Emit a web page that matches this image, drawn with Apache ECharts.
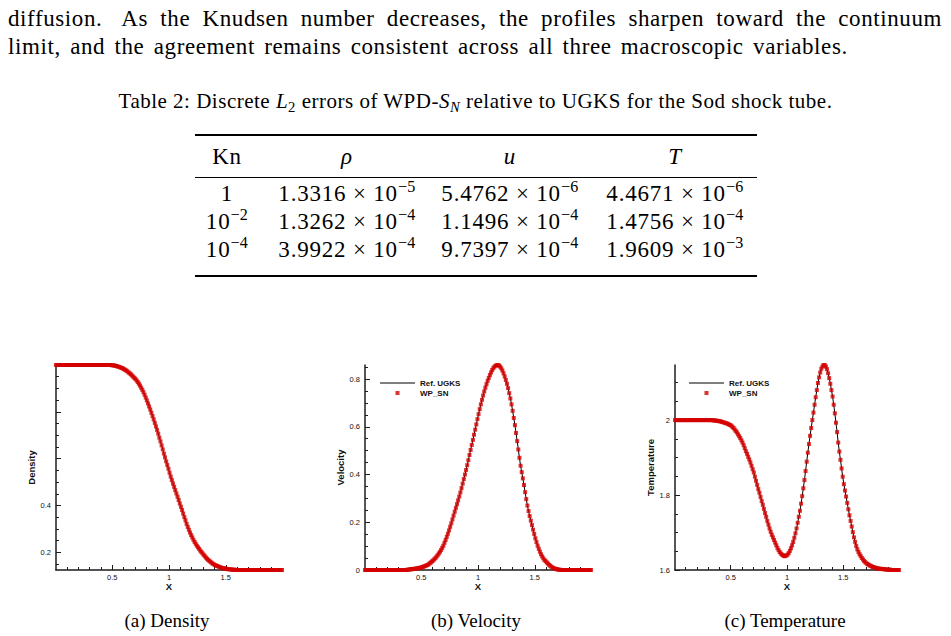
<!DOCTYPE html>
<html>
<head>
<meta charset="utf-8">
<script src="https://cdn.jsdelivr.net/npm/echarts@6/dist/echarts.min.js"></script>
<style>
html,body{margin:0;padding:0;background:#fff;}
body{width:951px;height:636px;position:relative;overflow:hidden;font-family:"Liberation Serif","Times New Roman",serif;color:#000;}
#chart{position:absolute;left:0;top:0;width:951px;height:636px;}
.t{position:absolute;white-space:nowrap;}
.para{font-size:23px;line-height:28px;}
.cell{position:absolute;width:220px;text-align:center;font-size:23px;line-height:28px;white-space:nowrap;letter-spacing:0.8px;}
.sup{font-size:0.7em;position:relative;top:-0.55em;letter-spacing:0.3px;}
.sub{font-size:0.7em;position:relative;top:0.3em;}
.rule{position:absolute;left:195px;width:562px;background:#000;}
.subcap{position:absolute;width:240px;text-align:center;font-size:19px;line-height:22px;}
</style>
</head>
<body>
<div id="chart"></div>
<div class="para" style="position:absolute;left:8px;top:5px;width:934px;text-align:justify;text-align-last:justify;letter-spacing:0.6px;"><span style="margin-right:8px;">diffusion.</span> As the Knudsen number decreases, the profiles sharpen toward the continuum</div>
<div class="para t" style="left:8px;top:33px;letter-spacing:0.6px;word-spacing:3px;">limit, and the agreement remains consistent across all three macroscopic variables.</div>
<div class="t" style="left:0;top:89px;width:951px;text-align:center;font-size:21px;line-height:24px;letter-spacing:0.5px;">Table 2: Discrete <i>L</i><span class="sub">2</span> errors of WPD-<i>S</i><span class="sub"><i>N</i></span> relative to UGKS for the Sod shock tube.</div>
<div class="rule" style="top:134px;height:2px;"></div>
<div class="rule" style="top:177px;height:1px;"></div>
<div class="rule" style="top:275px;height:2px;"></div>
<div id="table"></div>
<div class="subcap" style="left:47px;top:610px;">(a) Density</div>
<div class="subcap" style="left:356px;top:610px;">(b) Velocity</div>
<div class="subcap" style="left:665px;top:610px;">(c) Temperature</div>
<script>
// ---------- table text ----------
const tableHeader = ['Kn', '<i>ρ</i>', '<i>u</i>', '<i>T</i>'];
const tableKn = ['1', '10<span class="sup">−2</span>', '10<span class="sup">−4</span>'];
const tableRho = [['1.3316', '−5'], ['1.3262', '−4'], ['3.9922', '−4']];
const tableU = [['5.4762', '−6'], ['1.1496', '−4'], ['9.7397', '−4']];
const tableT = [['4.4671', '−6'], ['1.4756', '−4'], ['1.9609', '−3']];
const colCenters = [227, 347, 510, 675];
const headerY = 157;
const rowY = [194, 222, 250];

// ---------- chart data ----------
// cell centres of the 1D grid (200 uniform cells on [0, 2])
const xCells = Array.from({length: 200}, (_, i) => +(0.005 + 0.01 * i).toFixed(3));

const density = [
 1,1,1,1,1,1,1,1,1,1,
 1,1,1,1,1,1,1,1,1,1,
 1,1,1,1,1,1,1,1,1,1,
 1,1,1,1,1,1,1,1,1,1,
 1,1,1,1,1,1,1,1,1,0.999,
 0.999,0.998,0.997,0.996,0.994,0.993,0.991,0.989,0.987,0.985,
 0.982,0.979,0.976,0.972,0.968,0.964,0.960,0.955,0.950,0.945,
 0.940,0.934,0.927,0.920,0.912,0.903,0.894,0.884,0.873,0.861,
 0.849,0.836,0.823,0.810,0.796,0.782,0.768,0.753,0.738,0.723,
 0.707,0.690,0.674,0.657,0.640,0.622,0.606,0.589,0.573,0.557,
 0.540,0.524,0.509,0.494,0.480,0.466,0.452,0.438,0.424,0.409,
 0.395,0.381,0.366,0.351,0.337,0.322,0.309,0.297,0.285,0.274,
 0.264,0.254,0.245,0.237,0.229,0.222,0.215,0.208,0.202,0.196,
 0.190,0.184,0.178,0.173,0.168,0.164,0.160,0.156,0.152,0.149,
 0.146,0.144,0.142,0.140,0.138,0.136,0.134,0.133,0.132,0.131,
 0.130,0.129,0.128,0.128,0.127,0.127,0.126,0.126,0.126,0.125,
 0.125,0.125,0.125,0.125,0.125,0.125,0.125,0.125,0.125,0.125,
 0.125,0.125,0.125,0.125,0.125,0.125,0.125,0.125,0.125,0.125,
 0.125,0.125,0.125,0.125,0.125,0.125,0.125,0.125,0.125,0.125,
 0.125,0.125,0.125,0.125,0.125,0.125,0.125,0.125,0.125,0.125
];

const velocity = [
 0,0,0,0,0,0,0,0,0,0,
 0,0,0,0,0,0,0,0,0,0,
 0,0,0,0,0,0,0,0,0,0,
 0,0,0,0,0,0,0,0.001,0.001,0.002,
 0.003,0.003,0.004,0.005,0.005,0.006,0.007,0.008,0.009,0.010,
 0.011,0.013,0.015,0.017,0.019,0.021,0.024,0.028,0.032,0.036,
 0.040,0.045,0.050,0.056,0.062,0.069,0.076,0.084,0.093,0.102,
 0.114,0.126,0.139,0.152,0.166,0.181,0.196,0.212,0.228,0.244,
 0.260,0.276,0.292,0.308,0.325,0.343,0.362,0.381,0.400,0.419,
 0.439,0.460,0.482,0.503,0.524,0.545,0.567,0.588,0.610,0.632,
 0.653,0.674,0.694,0.713,0.731,0.748,0.764,0.779,0.793,0.805,
 0.817,0.828,0.838,0.846,0.852,0.856,0.858,0.859,0.857,0.852,
 0.845,0.836,0.824,0.811,0.796,0.780,0.762,0.741,0.719,0.694,
 0.667,0.637,0.607,0.574,0.540,0.505,0.470,0.437,0.410,0.384,
 0.356,0.326,0.297,0.270,0.247,0.226,0.207,0.188,0.169,0.151,
 0.133,0.117,0.102,0.089,0.077,0.066,0.057,0.049,0.042,0.037,
 0.032,0.027,0.022,0.018,0.014,0.011,0.008,0.006,0.004,0.003,
 0.002,0.001,0.001,0,0,0,0,0,0,0,
 0,0,0,0,0,0,0,0,0,0,
 0,0,0,0,0,0,0,0,0,0
];

const temperature = [
 2,2,2,2,2,2,2,2,2,2,
 2,2,2,2,2,2,2,2,2,2,
 2,2,2,2,2,2,2,2,2,2,
 2,2,2,2,1.999,1.999,1.999,1.998,1.998,1.997,
 1.997,1.996,1.995,1.994,1.993,1.992,1.991,1.990,1.988,1.987,
 1.985,1.982,1.979,1.975,1.971,1.967,1.962,1.957,1.952,1.946,
 1.940,1.933,1.925,1.917,1.910,1.902,1.895,1.887,1.878,1.869,
 1.860,1.849,1.838,1.827,1.816,1.806,1.795,1.784,1.774,1.763,
 1.752,1.742,1.731,1.721,1.711,1.702,1.694,1.687,1.680,1.673,
 1.666,1.659,1.653,1.648,1.644,1.641,1.639,1.637,1.637,1.639,
 1.641,1.645,1.651,1.658,1.666,1.675,1.686,1.698,1.711,1.726,
 1.742,1.758,1.777,1.797,1.818,1.840,1.864,1.889,1.913,1.936,
 1.958,1.979,2.000,2.020,2.041,2.061,2.080,2.099,2.114,2.127,
 2.137,2.143,2.147,2.147,2.143,2.136,2.125,2.112,2.097,2.080,
 2.063,2.041,2.018,1.993,1.968,1.940,1.916,1.894,1.871,1.849,
 1.829,1.812,1.796,1.779,1.762,1.746,1.731,1.716,1.701,1.687,
 1.675,1.664,1.655,1.648,1.642,1.637,1.632,1.628,1.624,1.621,
 1.618,1.616,1.614,1.612,1.611,1.609,1.608,1.607,1.606,1.605,
 1.604,1.604,1.603,1.603,1.603,1.602,1.602,1.602,1.601,1.601,
 1.601,1.601,1.600,1.600,1.600,1.600,1.600,1.600,1.600,1.600
];

const seriesNames = ['Ref. UGKS', 'WP_SN'];
const yTitles = ['Density', 'Velocity', 'Temperature'];
const xMajorTicks = [0.5, 1, 1.5];
const xMinorTicks = [0.1,0.2,0.3,0.4,0.6,0.7,0.8,0.9,1.1,1.2,1.3,1.4,1.6,1.7,1.8,1.9];
const yMajorTicks = [[0.2,0.4,0.6,0.8,1], [0,0.2,0.4,0.6,0.8], [1.6,1.8,2]];
const yTickLabels = [[0.2,0.4], [0,0.2,0.4,0.6,0.8], [1.6,1.8,2]];
const yMinorTicks = [
  [0.15,0.25,0.3,0.35,0.45,0.5,0.55,0.65,0.7,0.75,0.85,0.9,0.95],
  [0.05,0.1,0.15,0.25,0.3,0.35,0.45,0.5,0.55,0.65,0.7,0.75,0.85],
  [1.65,1.7,1.75,1.85,1.9,1.95,2.05,2.1]
];

// ---------- build table ----------
(function(){
  const t = document.getElementById('table');
  function cell(html, cx, cy){
    const d = document.createElement('div');
    d.className = 'cell';
    d.style.left = (cx - 110) + 'px';
    d.style.top = (cy - 14) + 'px';
    d.innerHTML = html;
    t.appendChild(d);
  }
  tableHeader.forEach((h, j) => cell(h, colCenters[j], headerY));
  const num = v => v[0] + '&nbsp;×&nbsp;10<span class="sup">' + v[1] + '</span>';
  for (let r = 0; r < 3; r++) {
    cell(tableKn[r], colCenters[0], rowY[r]);
    cell(num(tableRho[r]), colCenters[1], rowY[r]);
    cell(num(tableU[r]), colCenters[2], rowY[r]);
    cell(num(tableT[r]), colCenters[3], rowY[r]);
  }
})();

// ---------- chart ----------
const chart = echarts.init(document.getElementById('chart'), null, {renderer: 'svg'});
const profiles = [density, velocity, temperature];
const gridRects = [
  {left: 56, top: 365, width: 226, height: 205},
  {left: 365, top: 365, width: 226, height: 205},
  {left: 675, top: 365, width: 224, height: 205}
];
const axisColor = '#1c1c1c';
const sans = 'Liberation Sans';
const xMin = xCells[0], xMax = xCells[xCells.length - 1];

const grid = [], xAxis = [], yAxis = [], series = [];
profiles.forEach((vals, g) => {
  grid.push(Object.assign({outerBoundsMode: 'none', containLabel: false}, gridRects[g]));
  const yMin = Math.min(...vals), yMax = Math.max(...vals);
  xAxis.push({
    type: 'value', gridIndex: g, min: xMin, max: xMax, position: 'bottom',
    axisLine: {show: true, onZero: false, lineStyle: {color: axisColor, width: 1.5}},
    axisTick: {show: true, inside: true, length: 5, customValues: xMajorTicks, lineStyle: {color: axisColor, width: 1}},
    axisLabel: {show: true, customValues: xMajorTicks, margin: 3, fontSize: 7.5, color: '#111', fontFamily: sans},
    splitLine: {show: false},
    name: 'X', nameLocation: 'middle', nameGap: 9,
    nameTextStyle: {fontWeight: 'bold', fontSize: 9.5, fontFamily: sans, color: '#111'}
  });
  xAxis.push({
    type: 'value', gridIndex: g, min: xMin, max: xMax, position: 'bottom',
    axisLine: {show: false, onZero: false},
    axisTick: {show: true, inside: true, length: 3, customValues: xMinorTicks, lineStyle: {color: axisColor, width: 1}},
    axisLabel: {show: false}, splitLine: {show: false}
  });
  yAxis.push({
    type: 'value', gridIndex: g, min: yMin, max: yMax, position: 'left',
    axisLine: {show: true, onZero: false, lineStyle: {color: axisColor, width: 1.5}},
    axisTick: {show: true, inside: true, length: 5, customValues: yMajorTicks[g], lineStyle: {color: axisColor, width: 1}},
    axisLabel: {show: true, customValues: yTickLabels[g], margin: 5, fontSize: 7.5, color: '#111', fontFamily: sans},
    splitLine: {show: false},
    name: yTitles[g], nameLocation: 'middle', nameGap: 15,
    nameTextStyle: {fontWeight: 'bold', fontSize: 9.5, fontFamily: sans, color: '#111'}
  });
  yAxis.push({
    type: 'value', gridIndex: g, min: yMin, max: yMax, position: 'left',
    axisLine: {show: false, onZero: false},
    axisTick: {show: true, inside: true, length: 3, customValues: yMinorTicks[g], lineStyle: {color: axisColor, width: 1}},
    axisLabel: {show: false}, splitLine: {show: false}
  });
  const pts = xCells.map((xv, i) => [xv, vals[i]]);
  series.push({
    type: 'line', name: seriesNames[0], xAxisIndex: 2 * g, yAxisIndex: 2 * g,
    data: pts, symbol: 'none', showSymbol: false, clip: false,
    lineStyle: {color: '#000', width: 1}, itemStyle: {color: '#000'}, z: 2, silent: true
  });
  series.push({
    type: 'scatter', name: seriesNames[1], xAxisIndex: 2 * g, yAxisIndex: 2 * g,
    data: pts, symbol: 'rect', symbolSize: 4, clip: false,
    itemStyle: {color: '#d40000'}, z: 3, silent: true
  });
});

function legendAt(left){
  return {
    left: left, top: 379, orient: 'vertical', itemWidth: 35, itemHeight: 4, itemGap: 2,
    selectedMode: false, symbolKeepAspect: true, padding: 0,
    textStyle: {fontSize: 8, fontWeight: 'bold', fontFamily: sans, color: '#111', lineHeight: 8},
    data: [
      {name: seriesNames[0], icon: 'path://M0,0H35V1H0Z'},
      {name: seriesNames[1], icon: 'path://M0,0H1V1H0Z'}
    ]
  };
}

chart.setOption({
  animation: false,
  backgroundColor: 'transparent',
  grid: grid, xAxis: xAxis, yAxis: yAxis, series: series,
  legend: [legendAt(380), legendAt(689)]
});
</script>
</body>
</html>
